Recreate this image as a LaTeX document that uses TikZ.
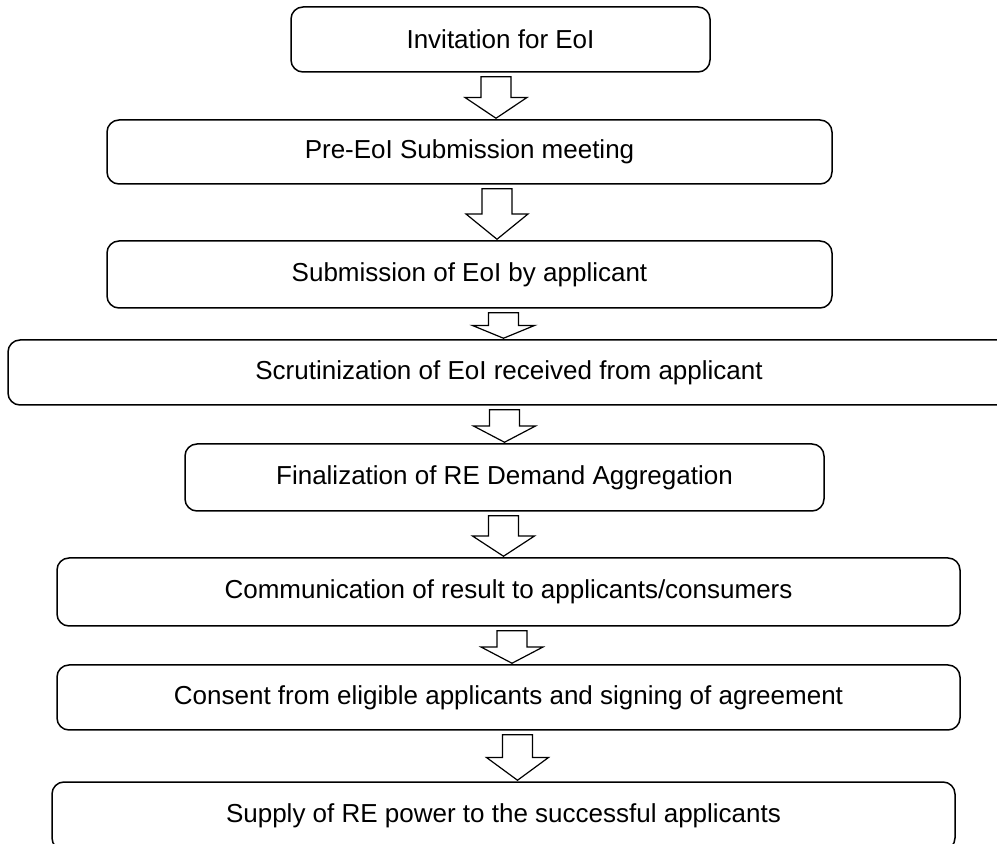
\documentclass[tikz,border=0pt]{standalone}
\usepackage{fontspec}
\setmainfont{Liberation Sans}
\usetikzlibrary{calc}
\tikzset{
  stage/.style={draw, rounded corners=6pt, line width=0.75pt, align=center,
    inner sep=0pt, font=\fontsize{13}{15}\selectfont},
  hollow/.style={draw, line width=0.6pt, fill=white, line join=miter},
}
\begin{document}
\begin{tikzpicture}[x=0.5pt,y=-0.5pt]
  \useasboundingbox (0,0) rectangle (997,844);
  % stages of the process
  \node[stage, minimum width=209.5pt, minimum height=32.5pt] (inv) at (500.5,39.5) {Invitation for EoI};
  \node[stage, minimum width=362.5pt, minimum height=32pt] (pre) at (469.5,152) {Pre-EoI Submission meeting};
  \node[stage, minimum width=362.5pt, minimum height=33.5pt] (sub) at (469.5,274.5) {Submission of EoI by applicant};
  \node[stage, minimum width=501pt, minimum height=32.5pt] (scr) at (509,372.5) {Scrutinization of EoI received from applicant};
  \node[stage, minimum width=319.5pt, minimum height=33.5pt] (fin) at (504.5,477.5) {Finalization of RE Demand Aggregation};
  \node[stage, minimum width=451.5pt, minimum height=34pt] (com) at (508.5,592) {Communication of result to applicants/consumers};
  \node[stage, minimum width=451.5pt, minimum height=32.5pt] (con) at (508.5,697.5) {Consent from eligible applicants and signing of agreement};
  \node[stage, minimum width=451.5pt, minimum height=34pt] (sup) at (503.5,816) {Supply of RE power to the successful applicants};

  % block arrows between stages
  \foreach \a/\b/\x in {inv/pre/496, pre/sub/497, sub/scr/503.5, scr/fin/504.5,
                        fin/com/503.5, com/con/512, con/sup/517.5} {
    \coordinate (ax) at (\x,0);
    \coordinate (top) at ([yshift=-2pt]ax |- \a.south);
    \coordinate (tip) at ([yshift=0.5pt]ax |- \b.north);
    \coordinate (mid) at ($(top)!0.5!(tip)$);
    \draw[hollow] ([xshift=-7.5pt]top) -- ([xshift=7.5pt]top) -- ([xshift=7.5pt]mid)
      -- ([xshift=15.5pt]mid) -- (tip) -- ([xshift=-15.5pt]mid) -- ([xshift=-7.5pt]mid) -- cycle;
  }
\end{tikzpicture}
\end{document}
